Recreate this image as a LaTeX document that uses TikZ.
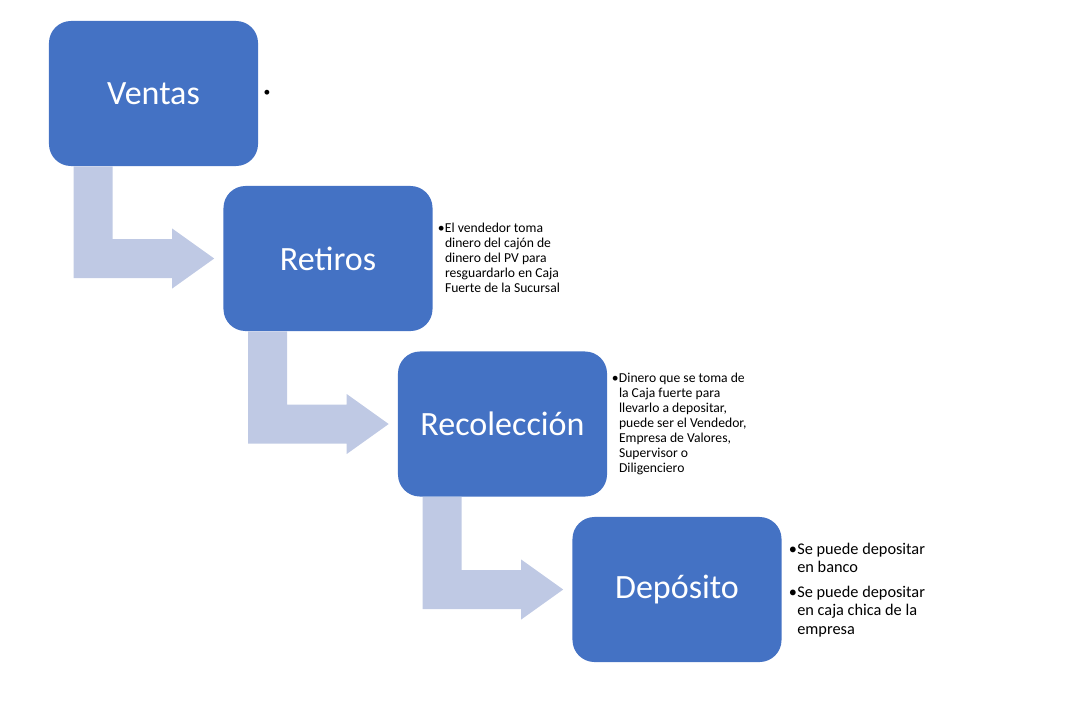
\documentclass[tikz,border=0pt]{standalone}
\usepackage{fontspec}
\setmainfont{Carlito}
\usepackage{xcolor}
\usetikzlibrary{calc}
\definecolor{vpblue}{RGB}{68,114,196}
\definecolor{vplav}{RGB}{191,201,228}
\tikzset{
  vpbox/.style={fill=vpblue, rounded corners=0.55cm, minimum width=5.225cm,
    minimum height=3.625cm, inner sep=0pt, text=white,
    font=\fontsize{24.2}{29}\selectfont},
  vpdesc/.style={anchor=north west, inner sep=0pt, align=left,
    font=\fontsize{9.7}{10.7}\selectfont},
  vpdescbig/.style={vpdesc, font=\fontsize{11.6}{13.2}\selectfont},
  vpbend/.style={fill=vplav, draw=none}
}
% bent arrow from the bottom of box #1 to the left side of box #2
\newcommand{\vpbendarrow}[2]{%
  \fill[vpbend] ($(#1.south west)+(25,0)$) -- ++(39,0)
    |- ($(#2.west)+(-51,-19.5)$) -- ++(0,-10.5) -- ($(#2.west)+(-9,0)$)
    -- ($(#2.west)+(-51,30)$) -- ++(0,-10.5)
    -| ($(#1.south west)+(25,0)$) -- cycle;}

\begin{document}
\begin{tikzpicture}[x=0.025cm, y=-0.025cm]
  \useasboundingbox (0,0) rectangle (1071,711);
  \node[vpbox] (vA) at (153.5,93.5) {Ventas};
  \node[vpbox] (vB) at (328,258.5) {Retiros};
  \node[vpbox] (vC) at (502.5,424) {Recolección};
  \node[vpbox] (vD) at (677,589.5) {Depósito};
  \vpbendarrow{vA}{vB}
  \vpbendarrow{vB}{vC}
  \vpbendarrow{vC}{vD}
  % descriptions
  \node[vpdesc, anchor=center] (dA) at (267,93) {\textbullet};
  \node[vpdesc] (dB) at (437.5,221.5) {\begin{tabular}{@{}l@{\hspace{0.3pt}}l@{}}
    \textbullet & El vendedor toma\\
    & dinero del cajón de\\
    & dinero del PV para\\
    & resguardarlo en Caja\\
    & Fuerte de la Sucursal\end{tabular}};
  \node[vpdesc] (dC) at (611.5,371.5) {\begin{tabular}{@{}l@{\hspace{0.3pt}}l@{}}
    \textbullet & Dinero que se toma de\\
    & la Caja fuerte para\\
    & llevarlo a depositar,\\
    & puede ser el Vendedor,\\
    & Empresa de Valores,\\
    & Supervisor o\\
    & Diligenciero\end{tabular}};
  \node[vpdescbig] (dD) at (788.5,541) {\begin{tabular}{@{}l@{\hspace{0.3pt}}l@{}}
    \textbullet & Se puede depositar\\
    & en banco\\[4pt]
    \textbullet & Se puede depositar\\
    & en caja chica de la\\
    & empresa\end{tabular}};
\end{tikzpicture}
\end{document}
